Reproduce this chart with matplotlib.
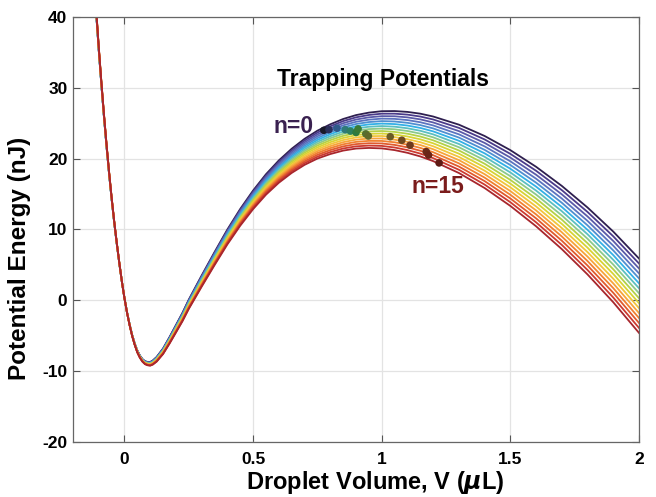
import numpy as np
import matplotlib
matplotlib.use('Agg')
import matplotlib.pyplot as plt

plt.rcParams['font.family'] = ['Liberation Sans', 'DejaVu Sans']
plt.rcParams['font.weight'] = 'bold'
plt.rcParams['axes.unicode_minus'] = False

# n=0 potential curve (V in uL, U in nJ)
volume = [-0.110, -0.100, -0.090, -0.080, -0.070, -0.060, -0.050, -0.040, -0.030,
          -0.020, -0.010, 0.000, 0.010, 0.020, 0.030, 0.040, 0.050, 0.060, 0.070,
          0.080, 0.090, 0.100, 0.110, 0.125, 0.150, 0.175, 0.200, 0.225, 0.250,
          0.275, 0.300, 0.350, 0.400, 0.450, 0.500, 0.550, 0.600, 0.650, 0.700,
          0.750, 0.800, 0.850, 0.900, 0.950, 1.000, 1.050, 1.100, 1.150, 1.200,
          1.300, 1.400, 1.500, 1.600, 1.700, 1.800, 1.900, 2.000]
energy_n0 = [40.5, 35.3, 30.5, 26.0, 21.8, 17.9, 14.3, 11.0, 8.0,
             5.2, 2.6, 0.3, -1.7, -3.4, -4.9, -6.1, -7.1, -7.8, -8.3,
             -8.6, -8.7, -8.7, -8.5, -8.0, -6.8, -5.2, -3.5, -1.8, 0.1,
             1.8, 3.5, 6.8, 10.0, 12.9, 15.5, 17.8, 19.75, 21.4, 22.8,
             23.95, 24.85, 25.6, 26.15, 26.5, 26.7, 26.72, 26.6, 26.35, 25.95,
             24.8, 23.2, 21.2, 18.85, 16.15, 13.1, 9.7, 5.9]

# energy of each curve at V = 2 uL (n = 0 .. 15); curves tilt linearly with V
energy_at_2 = [5.9, 5.2, 4.5, 3.8, 3.1, 2.4, 1.7, 1.0,
               0.3, -0.4, -1.1, -1.8, -2.5, -3.2, -3.9, -4.6]

line_colors = ['#2e1f4f', '#4b3b8a', '#5a5aa8', '#5b74c0', '#4f8fd0', '#33b0e6',
               '#5bbfc0', '#8cc98a', '#b5d147', '#d8d335', '#f2c53b', '#f7a43a',
               '#f08030', '#e05a2d', '#cc3a30', '#a8262c']

# trapped droplet states
dot_v = [0.775, 0.795, 0.826, 0.858, 0.878, 0.900, 0.908, 0.938, 0.948,
         1.033, 1.078, 1.110, 1.173, 1.182, 1.223]
dot_u = [24.0, 24.1, 24.3, 24.1, 23.9, 23.7, 24.2, 23.5, 23.2,
         23.1, 22.6, 21.9, 21.0, 20.5, 19.4]
dot_colors = ['#1a1a2a', '#2a2f5a', '#2f5a8a', '#2f7a7a', '#2e8060', '#2f7a3f',
              '#3a7a35', '#55702f', '#5f6a2a', '#6a5a25', '#6e4a20', '#6e3a1e',
              '#6a2a1a', '#6a2418', '#5e1a14']

fig = plt.figure(figsize=(6.56, 4.97), dpi=100)
ax = fig.add_axes([0.1113, 0.1107, 0.8628, 0.8551])

v = np.array(volume)
u0 = np.array(energy_n0)
for n in range(len(energy_at_2)):
    slope = (energy_at_2[n] - energy_at_2[0]) / 2.0
    ax.plot(v, u0 + slope * v, color=line_colors[n], lw=1.3, zorder=2)

ax.scatter(dot_v, dot_u, s=30, c=dot_colors, zorder=3, linewidths=0)

ax.text(0.735, 24.6, 'n=0', color='#3a2150', fontsize=16.5, fontweight='bold',
        ha='right', va='center')
ax.text(1.115, 16.0, 'n=15', color='#7b1c1c', fontsize=16.5, fontweight='bold',
        ha='left', va='center')
ax.text(1.006, 31.2, 'Trapping Potentials', color='black', fontsize=16.5,
        fontweight='bold', ha='center', va='center')

ax.set_xlim(-0.2, 2)
ax.set_ylim(-20, 40)
ax.set_xticks([0, 0.5, 1, 1.5, 2])
ax.set_xticklabels(['0', '0.5', '1', '1.5', '2'])
ax.set_yticks([-20, -10, 0, 10, 20, 30, 40])
ax.grid(True, color='#e3e3e3', lw=0.9)
ax.set_axisbelow(True)
ax.tick_params(direction='in', top=True, right=True, length=5, width=0.8,
               color='#555555', labelsize=12.5)
ax.tick_params(axis='y', pad=4)
ax.tick_params(axis='x', pad=7)
for lab in ax.get_xticklabels() + ax.get_yticklabels():
    lab.set_fontweight('bold')
for sp in ax.spines.values():
    sp.set_color('#666666')
    sp.set_linewidth(0.9)

ax.set_xlabel('Droplet Volume, V ($\\mu$L)', fontsize=17, fontweight='bold')
ax.set_ylabel('Potential Energy (nJ)', fontsize=17.5, fontweight='bold')
ax.xaxis.set_label_coords(0.534, -0.064)
ax.yaxis.set_label_coords(-0.074, 0.433)

fig.savefig('out.png', dpi=100, facecolor='white')
